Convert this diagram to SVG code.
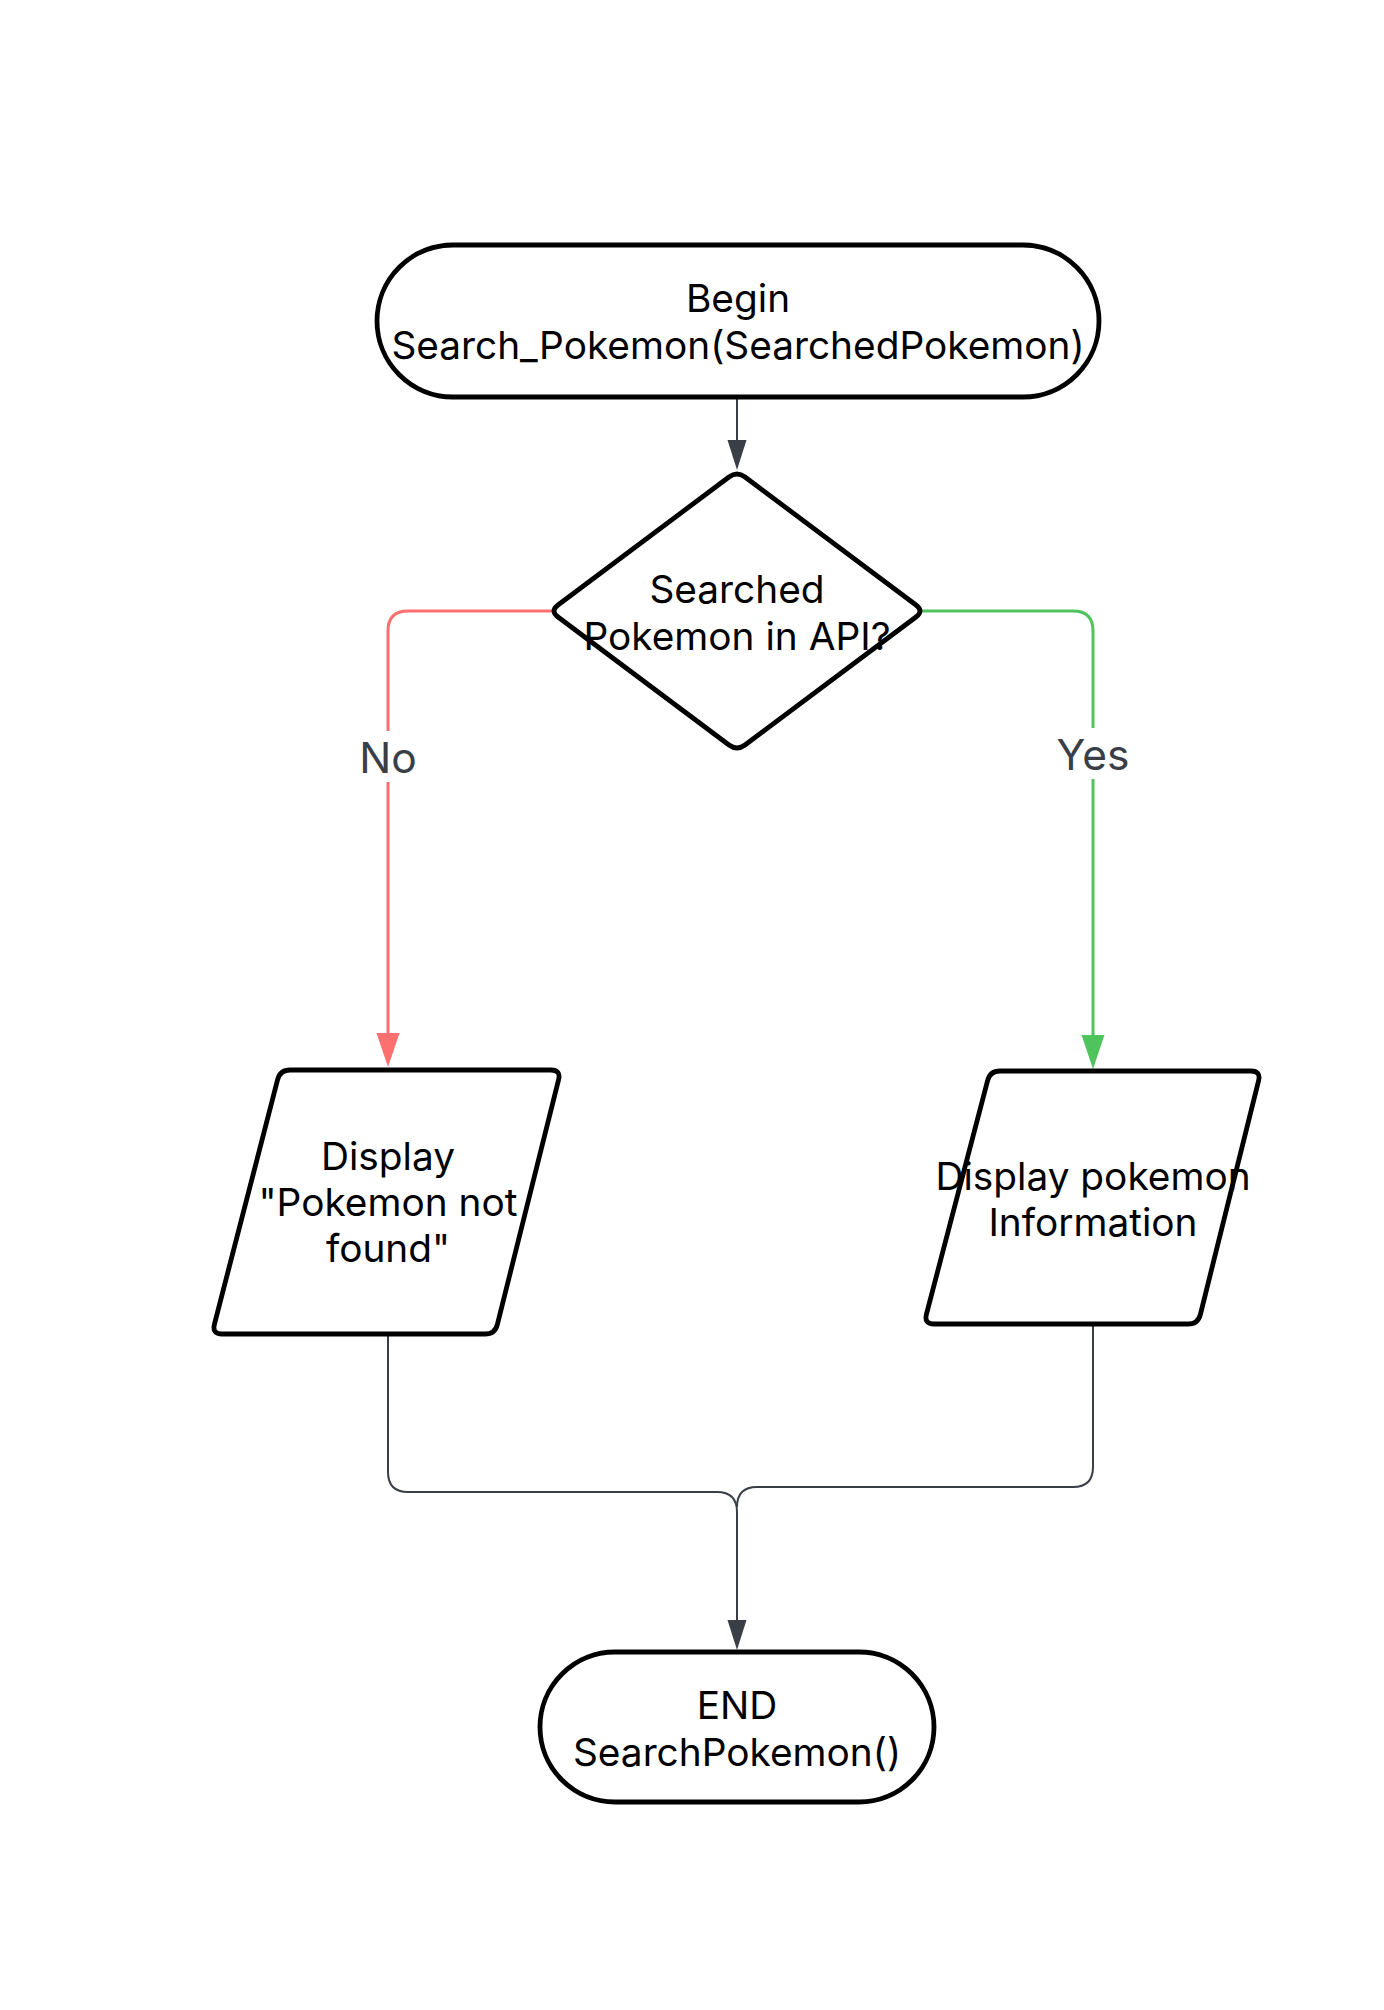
<svg xmlns="http://www.w3.org/2000/svg" width="1384" height="2010" viewBox="0 0 1384 2010">
<style>
.shape{fill:#ffffff;stroke:#000000;stroke-width:4.8;stroke-linejoin:round}
.t{font-family:Inter,"Noto Sans","Liberation Sans",sans-serif;font-size:38.8px;fill:#000000;text-anchor:middle}
.lbl{font-family:Inter,"Noto Sans","Liberation Sans",sans-serif;font-size:42.5px;fill:#3a3f47;text-anchor:middle}
.dark{fill:none;stroke:#3a3f47;stroke-width:2}
.red{fill:none;stroke:#fe6f6f;stroke-width:3}
.green{fill:none;stroke:#50c45c;stroke-width:3}
</style>
<defs>
<marker id="arDark" markerUnits="userSpaceOnUse" markerWidth="32" markerHeight="20" refX="0" refY="9.5" orient="auto"><path d="M0,0 L30,9.5 L0,19 Z" fill="#3a3f47"/></marker>
<marker id="arRed" markerUnits="userSpaceOnUse" markerWidth="36" markerHeight="24" refX="0" refY="11.5" orient="auto"><path d="M0,0 L34,11.5 L0,23 Z" fill="#fe6f6f"/></marker>
<marker id="arGreen" markerUnits="userSpaceOnUse" markerWidth="36" markerHeight="24" refX="0" refY="11.5" orient="auto"><path d="M0,0 L34,11.5 L0,23 Z" fill="#50c45c"/></marker>
</defs>
<rect width="1384" height="2010" fill="#ffffff"/>
<g id="connectors">
<path class="dark" d="M737,397 L737,440" marker-end="url(#arDark)"/>
<path class="red" d="M552,611 L408,611 Q388,611 388,631 L388,1033" marker-end="url(#arRed)"/>
<path class="green" d="M922,611 L1073,611 Q1093,611 1093,631 L1093,1035" marker-end="url(#arGreen)"/>
<path class="dark" d="M388,1334 L388,1472 Q388,1492 408,1492 L717,1492 Q737,1492 737,1512 L737,1620" marker-end="url(#arDark)"/>
<path class="dark" d="M1093,1324 L1093,1467 Q1093,1487 1073,1487 L757,1487 Q737,1487 737,1507"/>
<rect x="358" y="731" width="60" height="51" fill="#ffffff"/>
<text class="lbl" x="388" y="773">No</text>
<rect x="1053" y="728" width="80" height="51" fill="#ffffff"/>
<text class="lbl" x="1093" y="770">Yes</text>
</g>
<g id="begin">
<rect class="shape" x="377" y="245" width="722" height="152" rx="76" ry="76"/>
<text class="t" x="738" y="311.5">Begin</text>
<text class="t" x="738" y="358.5">Search_Pokemon(SearchedPokemon)</text>
</g>
<g id="decision">
<path class="shape" d="M745,477 L916,605 Q924,611 916,617 L745,745 Q737,751 729,745 L558,617 Q550,611 558,605 L729,477 Q737,471 745,477 Z"/>
<text class="t" x="737" y="602.5">Searched</text>
<text class="t" x="737" y="649.5">Pokemon in API?</text>
</g>
<g id="not-found">
<path class="shape" d="M290,1070 L551,1070 Q561,1070 558.6,1079.7 L497.4,1324.3 Q495,1334 485,1334 L222,1334 Q212,1334 214.4,1324.3 L277.6,1079.7 Q280,1070 290,1070 Z"/>
<text class="t" x="388" y="1169.5">Display</text>
<text class="t" x="388" y="1215.5">"Pokemon not</text>
<text class="t" x="388" y="1261.5">found"</text>
</g>
<g id="show-info">
<path class="shape" d="M1000,1071 L1251,1071 Q1261,1071 1258.6,1080.7 L1200.4,1314.3 Q1198,1324 1188,1324 L934,1324 Q924,1324 926.4,1314.3 L987.6,1080.7 Q990,1071 1000,1071 Z"/>
<text class="t" x="1093" y="1189.5">Display pokemon</text>
<text class="t" x="1093" y="1235.5">Information</text>
</g>
<g id="end">
<rect class="shape" x="540" y="1652" width="394" height="150" rx="75" ry="75"/>
<text class="t" x="737" y="1718.5">END</text>
<text class="t" x="737" y="1765.5">SearchPokemon()</text>
</g>
</svg>
